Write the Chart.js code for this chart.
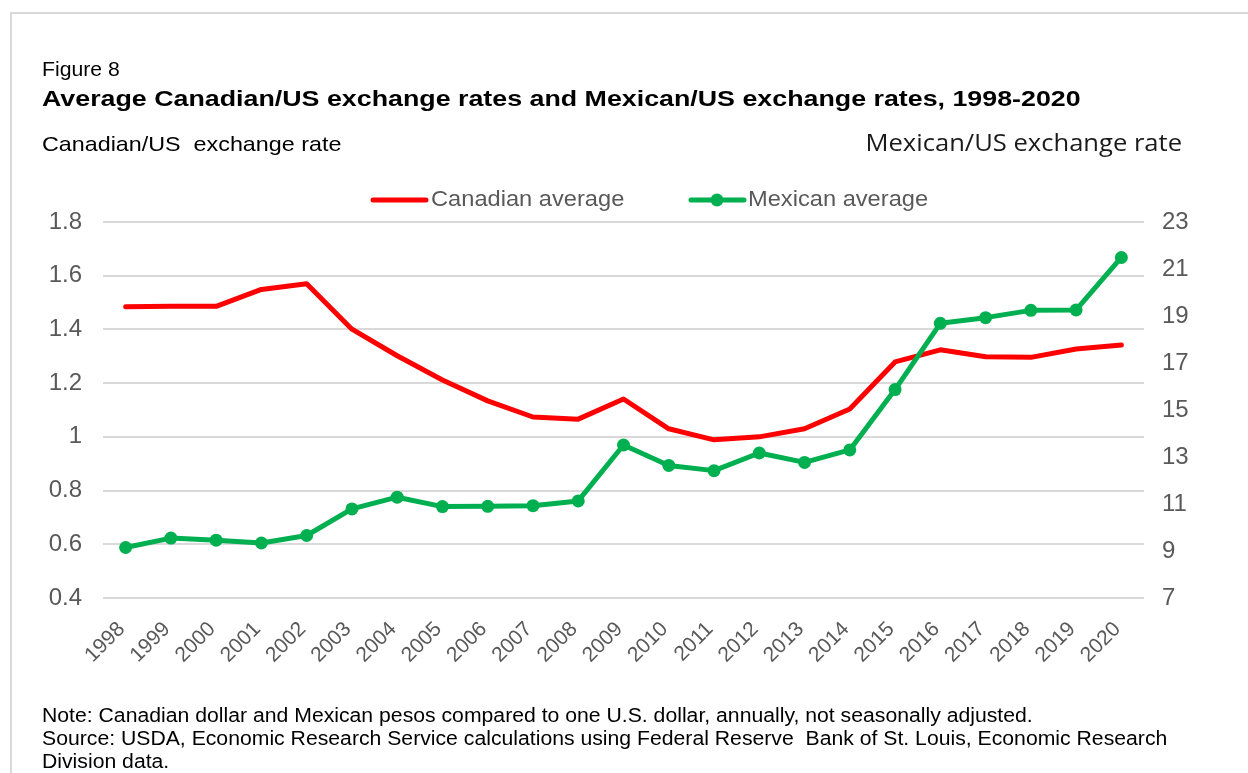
<!DOCTYPE html>
<html>
<head>
<meta charset="utf-8">
<title>Exchange rates 1998-2020</title>
<script src="https://cdn.jsdelivr.net/npm/chart.js@4.4.1/dist/chart.umd.min.js"></script>
<style>
  html, body { margin: 0; padding: 0; background: #fff; }
  #rates { display: block; }
</style>
</head>
<body>
<canvas id="rates" width="1248" height="773"></canvas>
<script>
'use strict';

var years = ['1998', '1999', '2000', '2001', '2002', '2003', '2004', '2005', '2006', '2007', '2008',
             '2009', '2010', '2011', '2012', '2013', '2014', '2015', '2016', '2017', '2018', '2019', '2020'];

// Canadian dollars per U.S. dollar (left axis)
var canadian = [1.484, 1.486, 1.486, 1.549, 1.570, 1.401, 1.302, 1.212, 1.134, 1.074, 1.066,
                1.141, 1.030, 0.989, 1.000, 1.030, 1.104, 1.279, 1.324, 1.298, 1.296, 1.327, 1.342];

// Mexican pesos per U.S. dollar (right axis)
var mexican = [9.15, 9.55, 9.46, 9.34, 9.66, 10.79, 11.29, 10.89, 10.90, 10.93, 11.13,
               13.51, 12.64, 12.42, 13.17, 12.77, 13.30, 15.87, 18.69, 18.93, 19.24, 19.26, 21.49];

var leftTicks = { min: 0.4, max: 1.8, step: 0.2 };
var rightTicks = { min: 7, max: 23, step: 2 };

var noteLines = [
    'Note: Canadian dollar and Mexican pesos compared to one U.S. dollar, annually, not seasonally adjusted.',
    'Source: USDA, Economic Research Service calculations using Federal Reserve  Bank of St. Louis, Economic Research',
    'Division data.'
];

var RED = '#ff0000';
var GREEN = '#00b050';
var GRID = '#d9d9d9';
var TICK = '#595959';
var ARIAL = '"Liberation Sans", Arial, sans-serif';

// text drawn a little wider than the font's natural width
function wideText(ctx, text, x, y, font, sx, align) {
    ctx.save();
    ctx.font = font;
    ctx.textAlign = align || 'left';
    ctx.translate(x, y);
    ctx.scale(sx, 1);
    ctx.fillText(text, 0, 0);
    ctx.restore();
}

// frame, headings, legend and notes around the plot
var decorations = {
    id: 'decorations',
    beforeDraw: function (chart) {
        var ctx = chart.ctx;
        ctx.save();
        ctx.fillStyle = '#ffffff';
        ctx.fillRect(0, 0, chart.width, chart.height);
        ctx.strokeStyle = '#d9d9d9';
        ctx.lineWidth = 2;
        ctx.strokeRect(11, 13, chart.width + 20, chart.height + 20);
        ctx.restore();
    },
    afterDraw: function (chart) {
        var ctx = chart.ctx;
        ctx.save();
        ctx.textBaseline = 'alphabetic';
        ctx.fillStyle = '#000000';

        wideText(ctx, 'Figure 8', 42, 76, '20px ' + ARIAL, 1.06);
        wideText(ctx, 'Average Canadian/US exchange rates and Mexican/US exchange rates, 1998-2020',
                 42, 106, 'bold 22px ' + ARIAL, 1.218);
        wideText(ctx, 'Canadian/US  exchange rate', 42, 151, '21px ' + ARIAL, 1.11);
        ctx.fillStyle = '#1a1a1a';
        wideText(ctx, 'Mexican/US exchange rate', 1182, 151, '24px "Open Sans", "Noto Sans", sans-serif', 1.065, 'right');

        // legend
        ctx.textBaseline = 'middle';
        ctx.lineCap = 'round';
        ctx.lineWidth = 5;

        ctx.strokeStyle = RED;
        ctx.beginPath();
        ctx.moveTo(373, 200);
        ctx.lineTo(426, 200);
        ctx.stroke();
        ctx.fillStyle = TICK;
        wideText(ctx, 'Canadian average', 431, 200, '22px ' + ARIAL, 1.075);

        ctx.strokeStyle = GREEN;
        ctx.beginPath();
        ctx.moveTo(691, 200);
        ctx.lineTo(744, 200);
        ctx.stroke();
        ctx.fillStyle = GREEN;
        ctx.beginPath();
        ctx.arc(717, 200, 6.5, 0, Math.PI * 2);
        ctx.fill();
        ctx.fillStyle = TICK;
        wideText(ctx, 'Mexican average', 748, 200, '22px ' + ARIAL, 1.075);

        // notes
        ctx.textBaseline = 'alphabetic';
        ctx.fillStyle = '#000000';
        noteLines.forEach(function (line, i) {
            wideText(ctx, line, 42, 722 + i * 23, '20px ' + ARIAL, 1.06);
        });
        ctx.restore();
    }
};

function fixedWidth(w) {
    return function (scale) { scale.width = w; };
}

var ctx = document.getElementById('rates');
var ratesChart = new Chart(ctx, {
    type: 'line',
    data: {
        labels: years,
        datasets: [
            {
                label: 'Canadian average',
                data: canadian,
                yAxisID: 'y',
                borderColor: RED,
                backgroundColor: RED,
                borderWidth: 5,
                borderCapStyle: 'round',
                borderJoinStyle: 'round',
                pointRadius: 0,
                tension: 0,
                fill: false,
                order: 1
            },
            {
                label: 'Mexican average',
                data: mexican,
                yAxisID: 'y1',
                borderColor: GREEN,
                backgroundColor: GREEN,
                borderWidth: 5,
                borderJoinStyle: 'round',
                pointRadius: 6.5,
                pointBorderWidth: 0,
                pointBackgroundColor: GREEN,
                tension: 0,
                fill: false,
                order: 0
            }
        ]
    },
    options: {
        responsive: false,
        animation: false,
        devicePixelRatio: 1,
        layout: { padding: { top: 222, left: 0, right: 0, bottom: 0 } },
        plugins: {
            legend: { display: false },
            title: { display: false },
            tooltip: { enabled: false }
        },
        scales: {
            x: {
                offset: true,
                grid: { display: false },
                border: { display: false },
                ticks: {
                    autoSkip: false,
                    maxRotation: 45,
                    minRotation: 45,
                    padding: 11,
                    labelOffset: -4,
                    color: TICK,
                    font: { family: ARIAL, size: 21 }
                },
                afterFit: function (scale) { scale.height = 175; }
            },
            y: {
                position: 'left',
                min: leftTicks.min,
                max: leftTicks.max,
                grid: { color: GRID, lineWidth: 2, drawTicks: false },
                border: { display: false },
                ticks: {
                    stepSize: leftTicks.step,
                    padding: 21,
                    color: TICK,
                    font: { family: ARIAL, size: 24 },
                    callback: function (v) { return String(Number(v.toFixed(1))); }
                },
                afterFit: fixedWidth(103)
            },
            y1: {
                position: 'right',
                min: rightTicks.min,
                max: rightTicks.max,
                grid: { drawOnChartArea: false, drawTicks: false },
                border: { display: false },
                ticks: {
                    stepSize: rightTicks.step,
                    padding: 18,
                    color: TICK,
                    font: { family: ARIAL, size: 24 }
                },
                afterFit: fixedWidth(104)
            }
        }
    },
    plugins: [decorations]
});
</script>
</body>
</html>
